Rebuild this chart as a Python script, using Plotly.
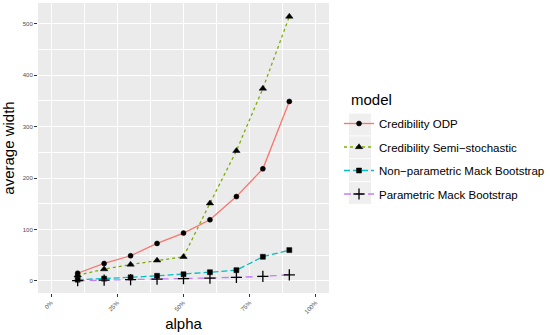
import plotly.graph_objects as go

alpha = [0.1, 0.2, 0.3, 0.4, 0.5, 0.6, 0.7, 0.8, 0.9]
cred_odp = [15, 34, 49, 73, 93, 119, 164, 218, 349]
cred_semi = [11, 23, 32, 40, 47, 151, 253, 374, 514]
np_mack = [2.5, 4.5, 7, 10, 13, 17, 21, 47, 60]
p_mack = [0.5, 1.5, 2.5, 3.5, 4.5, 5.5, 7, 9, 12]

names = ["Credibility ODP", "Credibility Semi\u2212stochastic",
         "Non\u2212parametric Mack Bootstrap", "Parametric Mack Bootstrap"]
series = [cred_odp, cred_semi, np_mack, p_mack]
colors = ["#F8766D", "#7CAE00", "#00BFC4", "#C77CFF"]
dashes = ["solid", "3px,3px", "6px,3px", "7px,5px"]
symbols = ["circle", "triangle-up", "square", "cross-thin"]
sizes = [5, 6.5, 5, 8]
mlw = [0.5, 0.5, 0.5, 1.3]

x_ticks = [0, 0.25, 0.5, 0.75, 1.0]
x_ticklabels = ["0%", "25%", "50%", "75%", "100%"]
y_ticks = [0, 100, 200, 300, 400, 500]

W, H = 550, 335
ML, MR, MT, MB = 38, 221, 3, 42
pw, ph = W - ML - MR, H - MT - MB

fig = go.Figure()
for i, (n, s) in enumerate(zip(names, series)):
    fig.add_trace(go.Scatter(
        x=alpha, y=s, name=n, mode="lines+markers",
        legendgroup=str(i),
        line=dict(color=colors[i], width=1.3, dash=dashes[i]),
        marker=dict(symbol=symbols[i], color="black", size=sizes[i],
                    line=dict(color="black", width=mlw[i])),
    ))

# legend key backgrounds (gray squares like ggplot)
shapes = []
for k in range(4):
    cy = 124.5 + k * 22.8
    x0, x1 = 349, 371
    y0, y1 = cy - 11, cy + 11
    shapes.append(dict(type="rect", xref="paper", yref="paper",
                       x0=(x0 - ML) / pw, x1=(x1 - ML) / pw,
                       y0=(H - MB - y1) / ph, y1=(H - MB - y0) / ph,
                       fillcolor="#EFEFEF", line=dict(width=0), layer="below"))

font_family = "Liberation Sans, Arial, sans-serif"
fig.update_layout(
    width=W, height=H,
    margin=dict(l=ML, r=MR, t=MT, b=MB, autoexpand=False),
    paper_bgcolor="white", plot_bgcolor="#EBEBEB",
    font=dict(family=font_family, color="black"),
    showlegend=True,
    shapes=shapes,
    annotations=[dict(text="model", xref="paper", yref="paper",
                      x=(349 - ML) / pw, y=(H - MB - 89) / ph,
                      xanchor="left", yanchor="top", showarrow=False,
                      font=dict(size=15, color="black"))],
    legend=dict(
        xref="container", yref="container", x=339 / W, y=1 - 109 / H,
        xanchor="left", yanchor="top",
        font=dict(size=11.5, color="black"),
        bgcolor="rgba(0,0,0,0)",
        tracegroupgap=4.5, itemwidth=30,
    ),
    xaxis=dict(
        range=[-0.05, 1.05], tickvals=x_ticks, ticktext=x_ticklabels,
        tickangle=-45, tickfont=dict(size=6, color="#4D4D4D"),
        ticks="outside", ticklen=3, tickcolor="#333333", tickwidth=1,
        showgrid=True, gridcolor="white", gridwidth=1.1, zeroline=False,
        minor=dict(dtick=0.125, tick0=0.125, showgrid=True, gridcolor="white", gridwidth=0.5, ticks=""),
        showline=False, automargin=False,
        title=dict(text="alpha", font=dict(size=15), standoff=4),
    ),
    yaxis=dict(
        range=[-23.4, 540.3], tickvals=y_ticks,
        tickfont=dict(size=6, color="#4D4D4D"),
        ticks="outside", ticklen=3, tickcolor="#333333", tickwidth=1,
        showgrid=True, gridcolor="white", gridwidth=1.1, zeroline=False,
        minor=dict(dtick=100, tick0=50, showgrid=True, gridcolor="white", gridwidth=0.5, ticks=""),
        showline=False, automargin=False,
        title=dict(text="average width", font=dict(size=15), standoff=4),
    ),
)

fig.write_html("out.html", config={"displayModeBar": False},
               post_script="document.body.style.margin='0';document.body.style.padding='0';")
